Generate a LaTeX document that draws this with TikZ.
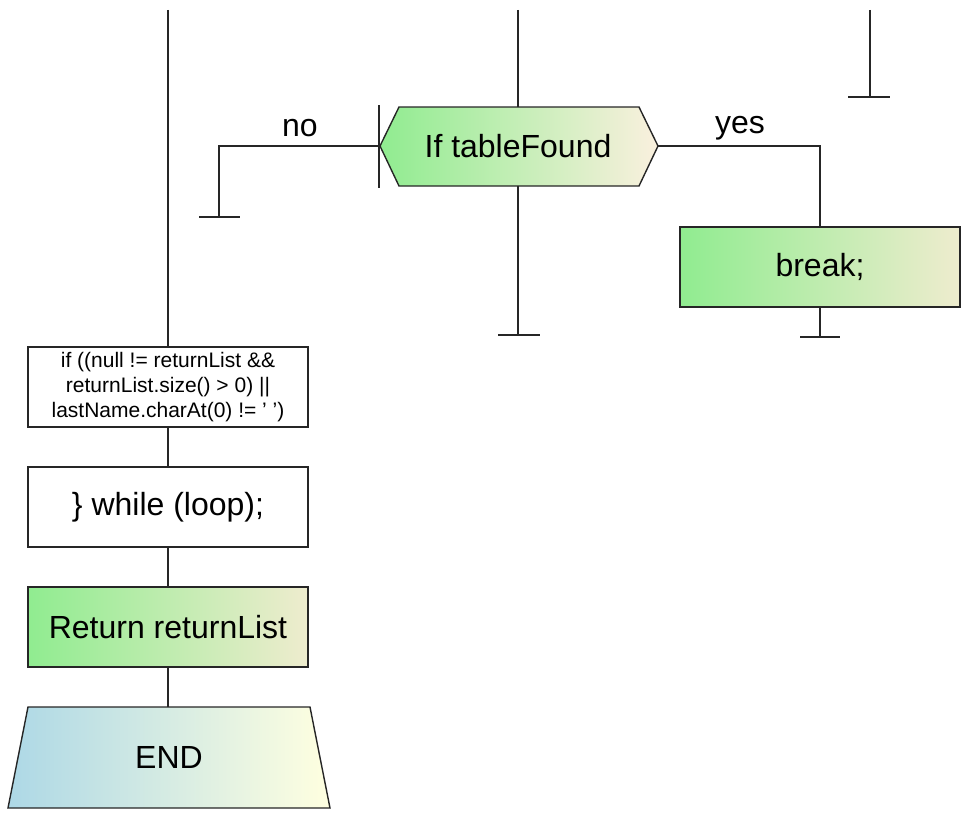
\documentclass[tikz,border=0pt]{standalone}
\usepackage{fontspec}
\setmainfont{Liberation Sans}
\definecolor{lgreen}{RGB}{144,236,144}
\definecolor{beige}{RGB}{238,236,206}
\definecolor{beige2}{RGB}{250,240,222}
\definecolor{lblue}{RGB}{173,216,230}
\definecolor{lyellow}{RGB}{255,255,224}
\begin{document}
\begin{tikzpicture}[x=1pt,y=-1pt,
  line/.style={line width=1.4pt,draw=black!85},
  greenbox/.style={draw=black!85,line width=1.4pt,shading=axis,left color=lgreen,right color=beige,minimum width=280pt,minimum height=80pt,inner sep=0pt,font=\fontsize{32}{36}\selectfont},
  whitebox/.style={draw=black!85,line width=1.4pt,fill=white,minimum width=280pt,minimum height=80pt,inner sep=0pt,align=center},
  lbl/.style={font=\fontsize{32}{36}\selectfont,inner sep=0pt}]
\useasboundingbox (0,0) rectangle (963,816);
% left column
\coordinate (t1) at (168,10);
\node[whitebox,font=\fontsize{21}{25}\selectfont] (ifb) at (168,387) {if ((null != returnList \&\&\\returnList.size() > 0) ||\\lastName.charAt(0) != ' ')};
\node[whitebox,font=\fontsize{32}{36}\selectfont] (whileb) at (168,507) {\} while (loop);};
\node[greenbox] (retb) at (168,627) {Return returnList};
% END trapezoid
\coordinate (endtop) at (168,707);
\shade[draw=black!85,line width=1.4pt,left color=lblue,right color=lyellow]
  (28,707) -- (310,707) -- (330,808) -- (8,808) -- cycle;
\node[lbl] (endn) at (169,757) {END};
\draw[line] (t1) -- (ifb.north);
\draw[line] (ifb.south) -- (whileb.north);
\draw[line] (whileb.south) -- (retb.north);
\draw[line] (retb.south) -- (endtop);
% hexagon
\coordinate (hl) at (380,146);
\coordinate (hr) at (658,146);
\coordinate (htop) at (518,107);
\coordinate (hbot) at (518,186);
\shade[draw=black!85,line width=1.4pt,left color=lgreen,right color=beige2]
  (hl) -- (399,107) -- (639,107) -- (hr) -- (639,186) -- (399,186) -- cycle;
\node[lbl] (hex) at (518,146) {If tableFound};
\coordinate (m1) at (518,10);
\coordinate (m2) at (518,335);
\draw[line] (m1) -- (htop);
\draw[line] (hbot) -- (m2);
\draw[line] (498,335) -- (540,335);
% right top stub
\coordinate (r1) at (870,10);
\coordinate (r2) at (870,97);
\draw[line] (r1) -- (r2);
\draw[line] (848,97) -- (890,97);
% tick at left tip
\draw[line] (379,105) -- (379,188);
% no branch
\coordinate (n1) at (219,146);
\coordinate (n2) at (219,217);
\draw[line] (hl) -- (n1) -- (n2);
\draw[line] (199,217) -- (240,217);
\node[lbl] (nolbl) at (300,128) {no};
% yes branch
\node[greenbox] (brk) at (820,267) {break;};
\coordinate (y1) at (820,146);
\coordinate (y2) at (820,337);
\draw[line] (hr) -- (y1) -- (brk.north);
\draw[line] (brk.south) -- (y2);
\draw[line] (800,337) -- (840,337);
\node[lbl] (yeslbl) at (740,128) {yes};
\end{tikzpicture}
\end{document}
